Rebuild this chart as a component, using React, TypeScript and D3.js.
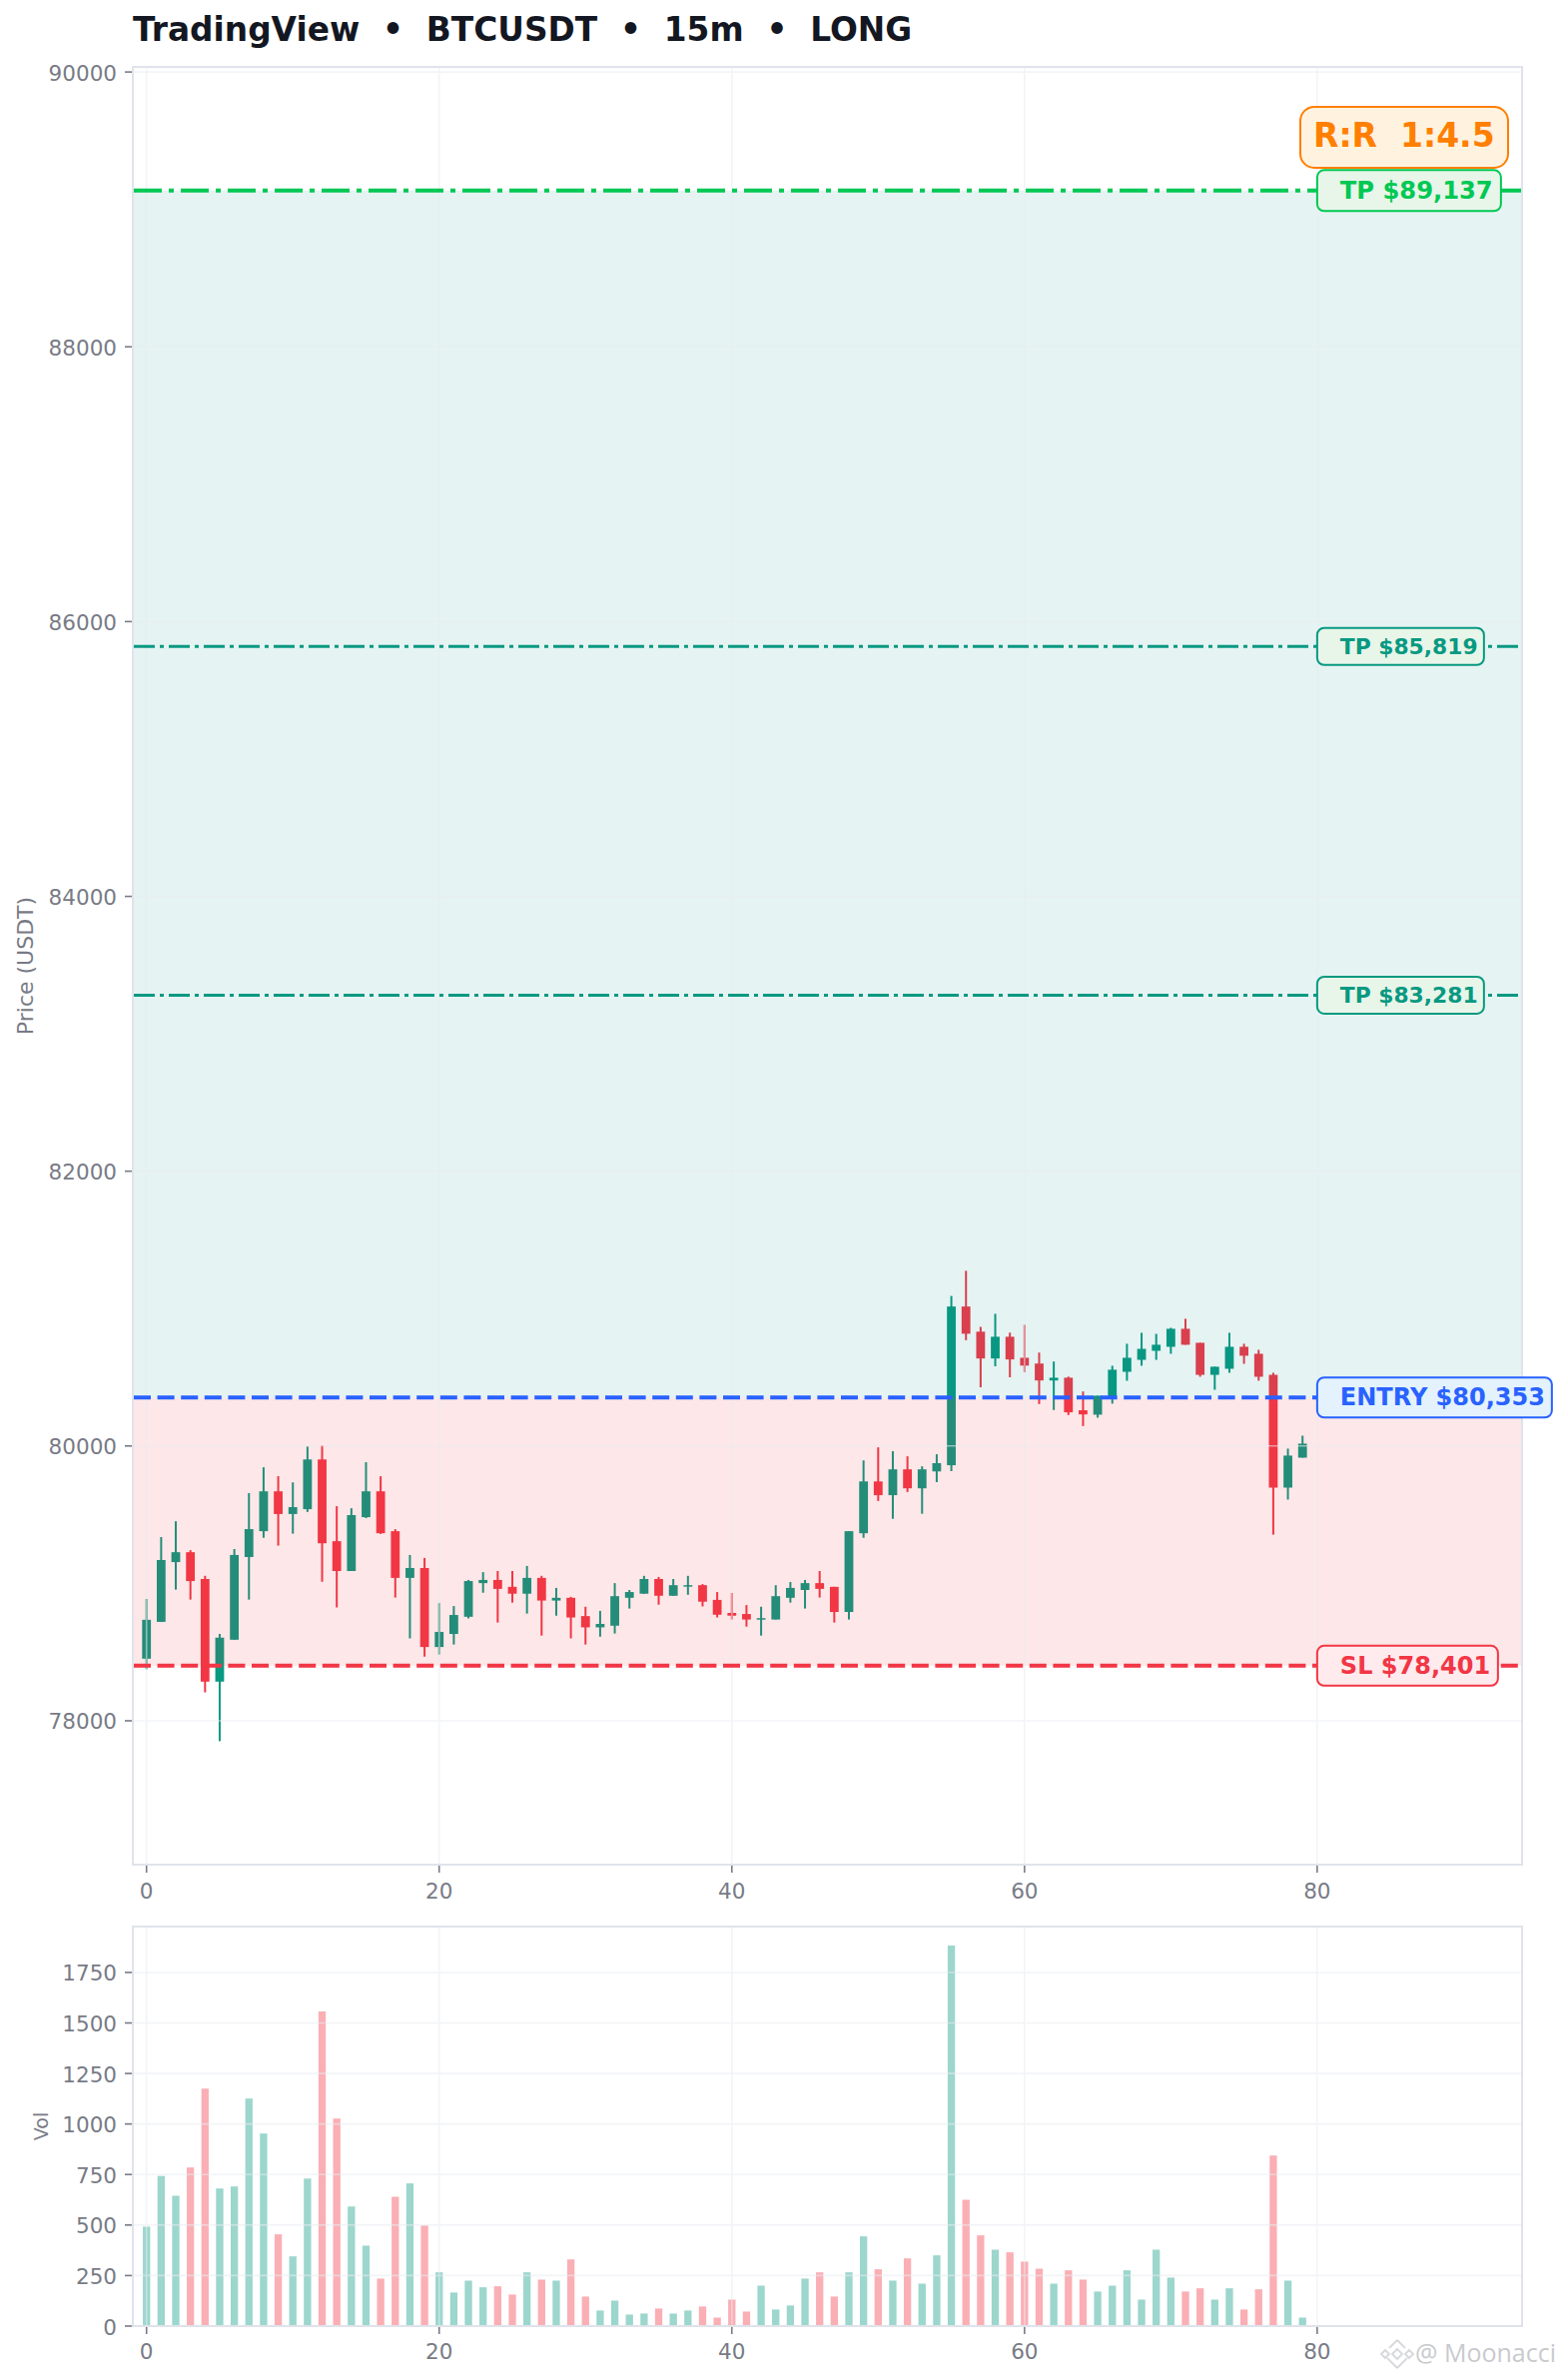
import * as d3 from 'd3';

const OPENS = [
  78452, 78720, 79155, 79227, 79032, 78285, 78590, 79192, 79380, 79670,
  79505, 79540, 79902, 79307, 79090, 79482, 79670, 79380, 79040, 79112,
  78537, 78632, 78757, 79002, 79025, 78975, 78925, 79040, 78875, 78895,
  78762, 78680, 78692, 78895, 78925, 79032, 78910, 78977, 78987, 78880,
  78785, 78777, 78740, 78737, 78895, 78952, 79002, 78975, 78792, 79365,
  79742, 79642, 79830, 79692, 79815, 79860, 81015, 80832, 80637, 80795,
  80642, 80600, 80477, 80497, 80260, 80228, 80351, 80540, 80627, 80693,
  80722, 80853, 80751, 80518, 80562, 80722, 80671, 80518, 79697, 79915,
];
const CLOSES = [
  78735, 79170, 79227, 79017, 78285, 78605, 79207, 79395, 79670, 79505,
  79555, 79902, 79292, 79090, 79497, 79670, 79365, 79040, 79112, 78537,
  78647, 78770, 79017, 79025, 78960, 78925, 79040, 78875, 78895, 78752,
  78680, 78705, 78907, 78937, 79032, 78910, 78987, 78987, 78867, 78772,
  78765, 78737, 78747, 78907, 78967, 79002, 78960, 78792, 79380, 79742,
  79642, 79830, 79692, 79830, 79875, 81015, 80817, 80637, 80795, 80630,
  80585, 80477, 80497, 80245, 80230, 80366, 80555, 80642, 80707, 80737,
  80853, 80737, 80518, 80577, 80722, 80657, 80504, 79697, 79930, 80017,
];
const HIGHS = [
  78887, 79337, 79452, 79242, 79055, 78632, 79250, 79657, 79845, 79780,
  79735, 79997, 80005, 79562, 79547, 79882, 79780, 79395, 79207, 79185,
  78857, 78835, 79025, 79082, 79090, 79090, 79127, 79055, 78967, 78902,
  78830, 78800, 79002, 78952, 79055, 79047, 79032, 79055, 78995, 78937,
  78930, 78842, 78830, 78987, 79010, 79025, 79090, 78975, 79380, 79895,
  79990, 79962, 79925, 79852, 79940, 81092, 81275, 80867, 80962, 80825,
  80882, 80680, 80615, 80505, 80397, 80366, 80584, 80744, 80824, 80816,
  80860, 80926, 80751, 80577, 80824, 80744, 80700, 80533, 79981, 80075,
];
const LOWS = [
  78375, 78720, 78955, 78882, 78207, 77852, 78590, 78882, 79332, 79275,
  79362, 79520, 79012, 78825, 79090, 79475, 79360, 78897, 78600, 78467,
  78482, 78555, 78745, 78932, 78715, 78860, 78780, 78620, 78765, 78600,
  78555, 78612, 78635, 78817, 78925, 78845, 78910, 78917, 78832, 78752,
  78737, 78685, 78620, 78737, 78860, 78817, 78897, 78715, 78737, 79332,
  79600, 79470, 79665, 79507, 79737, 79817, 80770, 80427, 80580, 80500,
  80537, 80305, 80262, 80225, 80145, 80206, 80308, 80475, 80584, 80627,
  80671, 80737, 80504, 80409, 80533, 80598, 80475, 79355, 79610, 79915,
];
const VOLUMES = [
  492, 743, 645, 785, 1175, 681, 691, 1126, 953, 454,
  345, 730, 1557, 1027, 592, 398, 235, 640, 706, 498,
  266, 166, 225, 192, 197, 156, 266, 230, 225, 330,
  146, 77, 126, 57, 62, 87, 62, 77, 97, 42,
  131, 72, 200, 82, 102, 235, 266, 146, 266, 444,
  281, 225, 335, 210, 350, 1883, 625, 449, 378, 365,
  319, 284, 210, 276, 230, 171, 200, 276, 131, 378,
  240, 171, 187, 131, 187, 82, 182, 844, 225, 42,
];

const PRICE_TICKS = [78000, 80000, 82000, 84000, 86000, 88000, 90000];
const VOL_TICKS = [0, 250, 500, 750, 1000, 1250, 1500, 1750];
const X_TICKS = [0, 20, 40, 60, 80];

const TP_LEVELS = [89137, 85819, 83281];
const ENTRY = 80353;
const SL = 78401;
const RR_TEXT = 'R:R  1:4.5';
const TITLE = 'TradingView  •  BTCUSDT  •  15m  •  LONG';

const GREEN = '#089981';
const RED = '#F23645';
const BLUE = '#2962FF';
const LIME = '#00C853';
const ORANGE = '#FF7F00';
const GRAY = '#787B86';
const SPINE = '#E0E3EB';
const FONT = '"DejaVu Sans", sans-serif';

const left = 133;
const right = 1524;
const mainTop = 67;
const mainBottom = 1867;
const volTop = 1929;
const volBottom = 2329;

// box sizes of the price tags, in the same order as they are drawn below
const TAGS = [
  { label: `TP $${d3.format(',')(TP_LEVELS[0])}`, value: TP_LEVELS[0], color: LIME, fill: '#E8F5E9', w: 184, h: 41, size: 24.2 },
  { label: `TP $${d3.format(',')(TP_LEVELS[1])}`, value: TP_LEVELS[1], color: GREEN, fill: '#E8F5E9', w: 167, h: 37, size: 21.8 },
  { label: `TP $${d3.format(',')(TP_LEVELS[2])}`, value: TP_LEVELS[2], color: GREEN, fill: '#E8F5E9', w: 167, h: 37, size: 21.8 },
  { label: `ENTRY $${d3.format(',')(ENTRY)}`, value: ENTRY, color: BLUE, fill: '#E3F2FD', w: 235, h: 40, size: 24 },
  { label: `SL $${d3.format(',')(SL)}`, value: SL, color: RED, fill: '#FFEBEE', w: 181, h: 40, size: 24 },
];

const x = d3.scaleLinear().domain([-0.935, 94]).range([left, right]);
const y = d3.scaleLinear().domain([76953, 90037]).range([mainBottom, mainTop]);
const yVol = d3.scaleLinear().domain([0, 1977]).range([volBottom, volTop]);

const candleColor = (i: number) => (CLOSES[i] >= OPENS[i] ? GREEN : RED);

function Grid({ top, bottom, ticks, scale }: { top: number; bottom: number; ticks: number[]; scale: d3.ScaleLinear<number, number> }) {
  return (
    <g stroke="#E9ECF2" strokeWidth={1.6} opacity={0.55}>
      {X_TICKS.map(t => <line key={t} x1={x(t)} x2={x(t)} y1={top} y2={bottom} />)}
      {ticks.map(t => <line key={t} x1={left} x2={right} y1={scale(t)} y2={scale(t)} />)}
    </g>
  );
}

function Axes({ top, bottom, ticks, scale, labelY }: { top: number; bottom: number; ticks: number[]; scale: d3.ScaleLinear<number, number>; labelY: number }) {
  return (
    <g fontFamily={FONT} fontSize={21.5} fill={GRAY}>
      <rect x={left} y={top} width={right - left} height={bottom - top} fill="none" stroke={SPINE} strokeWidth={2} />
      {ticks.map(t => (
        <g key={t}>
          <line x1={left - 8} x2={left - 1} y1={scale(t)} y2={scale(t)} stroke={GRAY} strokeWidth={1.6} />
          <text x={left - 16} y={scale(t) + 1} textAnchor="end" dominantBaseline="central">{t}</text>
        </g>
      ))}
      {X_TICKS.map(t => (
        <g key={t}>
          <line x1={x(t)} x2={x(t)} y1={bottom + 1} y2={bottom + 8} stroke={GRAY} strokeWidth={1.6} />
          <text x={x(t)} y={labelY} textAnchor="middle" dominantBaseline="central">{t}</text>
        </g>
      ))}
    </g>
  );
}

export default function App() {
  const tagX = x(80);
  return (
    <svg width={1562} height={2383} style={{ position: 'absolute', left: 0, top: 0, display: 'block', background: '#fff' }}>
      <text x={133} y={41} fontFamily={FONT} fontSize={32.8} fontWeight={700} fill="#131722" style={{ whiteSpace: 'pre' }}>{TITLE}</text>

      {/* Candles sit under the zones, so the zones tint them */}
      {OPENS.map((o, i) => {
        const c = CLOSES[i];
        const top = y(Math.max(o, c));
        return (
          <g key={i} fill={candleColor(i)}>
            <line x1={x(i)} x2={x(i)} y1={y(HIGHS[i])} y2={y(LOWS[i])} stroke={candleColor(i)} strokeWidth={2} />
            <rect x={x(i - 0.3)} y={top} width={x(0.6) - x(0)} height={Math.max(y(Math.min(o, c)) - top, 1.5)} />
          </g>
        );
      })}

      <rect x={left} y={y(TP_LEVELS[0])} width={right - left} height={y(ENTRY) - y(TP_LEVELS[0])} fill="#0B8F8A" opacity={0.105} />
      <rect x={left} y={y(ENTRY)} width={right - left} height={y(SL) - y(ENTRY)} fill={RED} opacity={0.12} />

      <Grid top={mainTop} bottom={mainBottom} ticks={PRICE_TICKS} scale={y} />

      <g fill="none">
        <line x1={left + 1} x2={right - 1} y1={y(TP_LEVELS[0])} y2={y(TP_LEVELS[0])} stroke={LIME} strokeWidth={4} strokeDasharray="28 7 5 7" />
        <line x1={left + 1} x2={right - 1} y1={y(TP_LEVELS[1])} y2={y(TP_LEVELS[1])} stroke={GREEN} strokeWidth={3} strokeDasharray="21 5 4 5" />
        <line x1={left + 1} x2={right - 1} y1={y(TP_LEVELS[2])} y2={y(TP_LEVELS[2])} stroke={GREEN} strokeWidth={3} strokeDasharray="21 5 4 5" />
        <line x1={left + 1} x2={right - 1} y1={y(ENTRY)} y2={y(ENTRY)} stroke={BLUE} strokeWidth={4} strokeDasharray="17 6.6" />
        <line x1={left + 1} x2={right - 1} y1={y(SL)} y2={y(SL)} stroke={RED} strokeWidth={4} strokeDasharray="17 6.6" />
      </g>

      <Axes top={mainTop} bottom={mainBottom} ticks={PRICE_TICKS} scale={y} labelY={1893} />
      <text transform={`translate(25,${(mainTop + mainBottom) / 2}) rotate(-90)`} textAnchor="middle" dominantBaseline="central" fontFamily={FONT} fontSize={22} fill={GRAY}>Price (USDT)</text>

      {TAGS.map(t => (
        <g key={t.label}>
          <rect x={tagX} y={y(t.value) - t.h / 2} width={t.w} height={t.h} rx={7} fill={t.fill} stroke={t.color} strokeWidth={2} />
          <text x={tagX + 23} y={y(t.value)} dominantBaseline="central" fontFamily={FONT} fontSize={t.size} fontWeight={700} fill={t.color}>{t.label}</text>
        </g>
      ))}

      <rect x={1302} y={107} width={208} height={61} rx={14} fill="#FFF3E0" stroke={ORANGE} strokeWidth={2} />
      <text x={1315} y={147} fontFamily={FONT} fontSize={33} fontWeight={700} fill={ORANGE} style={{ whiteSpace: 'pre' }}>{RR_TEXT}</text>

      {/* Volume panel */}
      {VOLUMES.map((v, i) => (
        <rect key={i} x={x(i - 0.25)} y={yVol(v)} width={x(0.5) - x(0)} height={yVol(0) - yVol(v)} fill={candleColor(i)} opacity={0.4} />
      ))}
      <Grid top={volTop} bottom={volBottom} ticks={VOL_TICKS} scale={yVol} />
      <Axes top={volTop} bottom={volBottom} ticks={VOL_TICKS} scale={yVol} labelY={2354} />
      <text transform={`translate(41,${(volTop + volBottom) / 2}) rotate(-90)`} textAnchor="middle" dominantBaseline="central" fontFamily={FONT} fontSize={19} fill={GRAY}>Vol</text>

      {/* Watermark */}
      <g transform="translate(1399,2357)" fill="none" stroke="#D9DADE" strokeWidth={2}>
        <path d="M0 -14 L8 -6 M0 -14 L-8 -6 M0 14 L10 4 M0 14 L-10 4 M-16 0 L-12 -4 L-8 0 L-12 4 Z M16 0 L12 -4 L8 0 L12 4 Z M0 -5 L5 0 L0 5 L-5 0 Z" />
      </g>
      <text x={1417} y={2365} fontFamily='"Open Sans", sans-serif' fontSize={25} fill="#C9CACE">@ Moonacci</text>
    </svg>
  );
}
